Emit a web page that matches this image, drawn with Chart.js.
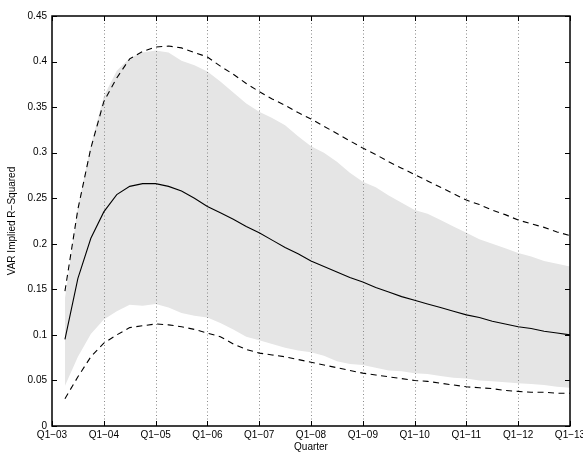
<!DOCTYPE html>
<html>
<head>
<meta charset="utf-8">
<script src="https://cdn.jsdelivr.net/npm/chart.js@4/dist/chart.umd.min.js"></script>
<style>
  html, body { margin: 0; padding: 0; background: #fff; }
  canvas { display: block; }
</style>
</head>
<body>
<canvas id="r2Chart" width="583" height="453"></canvas>
<script>
// quarters from Q1-03 to Q1-13; the first slot has no estimate
const years = ['03', '04', '05', '06', '07', '08', '09', '10', '11', '12', '13'];
const quarterNames = ['Q1', 'Q2', 'Q3', 'Q4'];

const median = [null,
  0.095, 0.162, 0.206, 0.235, 0.254, 0.263, 0.266, 0.266, 0.263, 0.258,
  0.250, 0.241, 0.234, 0.227, 0.219, 0.212, 0.204, 0.196, 0.189, 0.181,
  0.175, 0.169, 0.163, 0.158, 0.152, 0.147, 0.142, 0.138, 0.134, 0.130,
  0.126, 0.122, 0.119, 0.115, 0.112, 0.109, 0.107, 0.104, 0.102, 0.100];

const upperDashed = [null,
  0.148, 0.238, 0.305, 0.356, 0.382, 0.403, 0.411, 0.416, 0.417, 0.415,
  0.410, 0.405, 0.395, 0.386, 0.376, 0.367, 0.359, 0.352, 0.344, 0.337,
  0.329, 0.321, 0.313, 0.305, 0.298, 0.290, 0.283, 0.276, 0.269, 0.262,
  0.255, 0.248, 0.243, 0.237, 0.232, 0.226, 0.222, 0.218, 0.213, 0.209];

const lowerDashed = [null,
  0.030, 0.054, 0.076, 0.091, 0.100, 0.108, 0.110, 0.112, 0.111, 0.109,
  0.106, 0.102, 0.098, 0.090, 0.084, 0.080, 0.078, 0.076, 0.073, 0.070,
  0.067, 0.064, 0.061, 0.058, 0.056, 0.054, 0.052, 0.050, 0.049, 0.047,
  0.045, 0.043, 0.042, 0.041, 0.039, 0.038, 0.037, 0.037, 0.036, 0.036];

const bandTop = [null,
  0.140, 0.240, 0.308, 0.362, 0.390, 0.404, 0.410, 0.412, 0.410, 0.401,
  0.396, 0.389, 0.378, 0.366, 0.354, 0.345, 0.338, 0.330, 0.318, 0.307,
  0.300, 0.290, 0.278, 0.268, 0.262, 0.253, 0.245, 0.237, 0.233, 0.226,
  0.219, 0.212, 0.205, 0.200, 0.195, 0.190, 0.186, 0.181, 0.178, 0.175];

const bandBottom = [null,
  0.044, 0.076, 0.101, 0.117, 0.126, 0.133, 0.132, 0.134, 0.130, 0.124,
  0.121, 0.119, 0.113, 0.106, 0.098, 0.094, 0.090, 0.086, 0.083, 0.081,
  0.077, 0.071, 0.068, 0.067, 0.064, 0.061, 0.060, 0.058, 0.057, 0.055,
  0.053, 0.052, 0.050, 0.049, 0.048, 0.047, 0.046, 0.045, 0.043, 0.042];

const yTicks = [0, 0.05, 0.1, 0.15, 0.2, 0.25, 0.3, 0.35, 0.4, 0.45];

const labels = [];
years.forEach(function (yr) {
  quarterNames.forEach(function (q) {
    if (yr === '13' && q !== 'Q1') return;
    labels.push(q + '\u2212' + yr);
  });
});

const FONT = 'Liberation Sans, Arial, Helvetica, sans-serif';

// box, inward ticks and dotted year lines, drawn the matlab way
const axesBox = {
  id: 'axesBox',
  afterDatasetDraw(chart, args) {
    if (args.index !== 3) return; // just after the shaded band
    const { ctx, chartArea: a, scales: { x } } = chart;
    ctx.save();
    ctx.strokeStyle = '#8a8a8a';
    ctx.lineWidth = 1;
    ctx.setLineDash([1, 2.5]);
    for (let i = 4; i < labels.length - 1; i += 4) {
      const px = Math.round(x.getPixelForValue(i)) + 0.5;
      ctx.beginPath();
      ctx.moveTo(px, a.top);
      ctx.lineTo(px, a.bottom);
      ctx.stroke();
    }
    ctx.restore();
  },
  afterDraw(chart) {
    const { ctx, chartArea: a, scales: { x, y } } = chart;
    const tl = 5;
    ctx.save();
    ctx.strokeStyle = '#000';
    ctx.lineWidth = 1;
    ctx.beginPath();
    for (let i = 0; i < labels.length; i += 4) {
      const px = Math.round(x.getPixelForValue(i)) + 0.5;
      ctx.moveTo(px, a.bottom); ctx.lineTo(px, a.bottom - tl);
      ctx.moveTo(px, a.top); ctx.lineTo(px, a.top + tl);
    }
    yTicks.forEach(function (v) {
      const py = Math.round(y.getPixelForValue(v)) + 0.5;
      ctx.moveTo(a.left, py); ctx.lineTo(a.left + tl, py);
      ctx.moveTo(a.right, py); ctx.lineTo(a.right - tl, py);
    });
    ctx.stroke();
    ctx.lineWidth = 1.5;
    ctx.strokeRect(a.left, a.top, a.right - a.left, a.bottom - a.top);
    ctx.restore();
  }
};

const dashed = [6, 4.5];

new Chart(document.getElementById('r2Chart'), {
  type: 'line',
  data: {
    labels: labels,
    datasets: [
      { data: median, borderColor: '#000', borderWidth: 1.1, pointRadius: 0, fill: false },
      { data: upperDashed, borderColor: '#000', borderWidth: 1.1, borderDash: dashed, pointRadius: 0, fill: false },
      { data: lowerDashed, borderColor: '#000', borderWidth: 1.1, borderDash: dashed, pointRadius: 0, fill: false },
      { data: bandTop, borderWidth: 0, borderColor: 'rgba(0,0,0,0)', backgroundColor: '#e5e5e5', pointRadius: 0, fill: '+1' },
      { data: bandBottom, borderWidth: 0, borderColor: 'rgba(0,0,0,0)', pointRadius: 0, fill: false }
    ]
  },
  options: {
    responsive: false,
    animation: false,
    devicePixelRatio: 1,
    layout: { padding: { left: 0, right: 13, top: 16, bottom: 0 } },
    plugins: {
      legend: { display: false },
      tooltip: { enabled: false }
    },
    elements: { line: { tension: 0 } },
    scales: {
      x: {
        type: 'category',
        offset: false,
        grid: { display: false, drawTicks: false },
        border: { display: false },
        ticks: {
          autoSkip: false,
          maxRotation: 0,
          padding: 3,
          color: '#000',
          font: { family: FONT, size: 10 },
          callback: function (v, i) { return i % 4 === 0 ? labels[i] : ''; }
        },
        title: {
          display: true,
          text: 'Quarter',
          color: '#000',
          padding: { top: 0, bottom: 0 },
          font: { family: FONT, size: 10 }
        },
        afterFit: function (s) { s.height = 27; s.paddingLeft = 0; s.paddingRight = 0; }
      },
      y: {
        min: 0,
        max: 0.45,
        grid: { display: false, drawTicks: false },
        border: { display: false },
        afterBuildTicks: function (s) { s.ticks = yTicks.map(function (v) { return { value: v }; }); },
        ticks: {
          padding: 5,
          color: '#000',
          font: { family: FONT, size: 10 },
          callback: function (v) { return String(Number(v.toFixed(2))); }
        },
        title: {
          display: true,
          text: 'VAR Implied R\u2212Squared',
          color: '#000',
          padding: { top: 6, bottom: 0 },
          font: { family: FONT, size: 10 }
        },
        afterFit: function (s) { s.width = 52; }
      }
    }
  },
  plugins: [axesBox]
});
</script>
</body>
</html>
